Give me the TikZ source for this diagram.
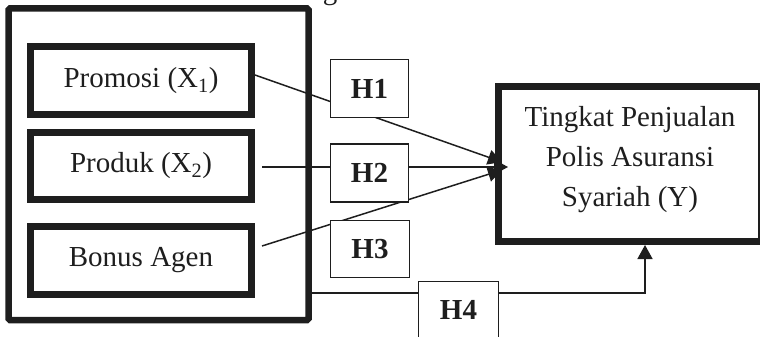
\documentclass[tikz,border=0pt]{standalone}
\usepackage{fontspec}
\setmainfont{Liberation Serif}
\usetikzlibrary{arrows.meta,calc}
\pgfdeclarelayer{wires}
\pgfsetlayers{wires,main}
\definecolor{ink}{HTML}{1E1E1E}
\begin{document}
\begin{tikzpicture}[x=1pt,y=-1pt,
  font=\fontsize{29}{40}\selectfont,
  every node/.style={text=ink},
  varbox/.style={draw=ink,line width=7pt,minimum width=221pt,minimum height=68pt,inner sep=0pt},
  hbox/.style={draw=ink,fill=white,line width=1.5pt,minimum width=78pt,minimum height=58pt,inner sep=0pt,font=\fontsize{29}{40}\selectfont\bfseries},
  wire/.style={draw=ink,line width=1.5pt},
  arr/.style={wire,-{Triangle[length=14pt,width=15pt]}}]
\useasboundingbox (0,0) rectangle (760,337);

% tail of the caption line above the figure
\node[anchor=base,inner sep=0pt] (cap) at (330,0) {g};

% group of independent variables
\node[draw=ink,line width=6.5pt,rounded corners=1.5pt,minimum width=300pt,minimum height=311.5pt] (grp) at (158.5,164.25) {};
\node[varbox] (x1) at (141,80.5) {Promosi (X\textsubscript{1})};
\node[varbox,minimum height=67pt] (x2) at (141,166) {Produk (X\textsubscript{2})};
\node[varbox] (x3) at (141,260.5) {Bonus Agen};

% dependent variable
\node[draw=ink,line width=7pt,minimum width=263pt,minimum height=155pt] (y) at (630,164) {};
\node[align=center,inner sep=0pt] (ytext) at (630,160) {Tingkat Penjualan\\Polis Asuransi\\Syariah (Y)};

% hypotheses
\node[hbox] (h1) at (369.5,88.5) {H1};
\node[hbox] (h2) at (369.5,173) {H2};
\node[hbox,minimum width=79pt,minimum height=57pt] (h3) at (370,249) {H3};
\node[hbox,minimum width=80pt,minimum height=57pt] (h4) at (458.5,310) {H4};

% arrow end points and the bend of the H4 path
\coordinate (tip) at (508,167);
\coordinate (tipa) at (502,162);
\coordinate (tipc) at (502,170);
\coordinate (bend) at (645,293);

\begin{pgfonlayer}{wires}
\draw[arr] ($(x1.east)+(0,-5.5)$) -- (tipa);
\draw[arr] ($(x2.east)+(7,1)$) -- (tip);
\draw[arr] ($(x3.east)+(7,-14.5)$) -- (tipc);
\draw[arr] (bend -| grp.east) -- (bend) -- (bend |- y.south);
\end{pgfonlayer}
\end{tikzpicture}
\end{document}
